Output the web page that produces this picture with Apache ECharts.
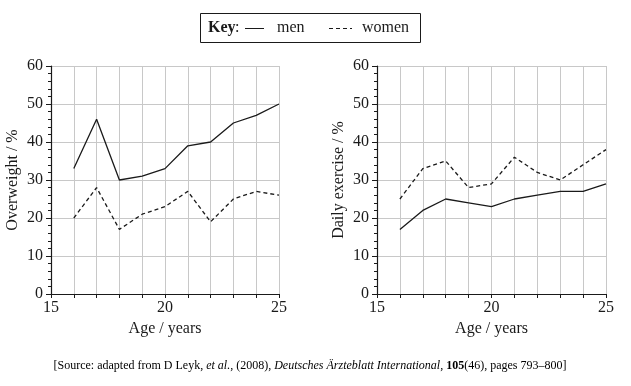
<!DOCTYPE html>
<html>
<head>
<meta charset="utf-8">
<script src="https://cdn.jsdelivr.net/npm/echarts@6/dist/echarts.min.js"></script>
<style>
html,body{margin:0;padding:0;background:#fff;}
#c{width:631px;height:386px;}
</style>
</head>
<body>
<div id="c"></div>
<script>
const ages = [16, 17, 18, 19, 20, 21, 22, 23, 24, 25];
const overweightMen   = [33, 46, 30, 31, 33, 39, 40, 45, 47, 50];
const overweightWomen = [20, 28, 17, 21, 23, 27, 19, 25, 27, 26];
const exerciseMen     = [17, 22, 25, 24, 23, 25, 26, 27, 27, 29];
const exerciseWomen   = [25, 33, 35, 28, 29, 36, 32, 30, 34, 38];
const xTickLabels = [15, 20, 25];
const yAxisNames = ['Overweight / %', 'Daily exercise / %'];
const xAxisName = 'Age / years';

const FONT = 'Liberation Serif';
const INK = '#1a1a1a';
const GRIDC = '#c8c8c8';

function pairs(vals){ return ages.map((a,i)=>[a, vals[i]]); }

function xAxis(gi){
  return {
    type:'value', gridIndex:gi, min:15, max:25, interval:1,
    name:xAxisName, nameLocation:'middle', nameGap:24,
    nameTextStyle:{fontFamily:FONT, fontSize:16, color:INK},
    axisLine:{show:true, lineStyle:{color:INK, width:1.2}},
    axisTick:{show:true, length:4, lineStyle:{color:INK}},
    axisLabel:{fontFamily:FONT, fontSize:16, color:INK, margin:6,
      formatter:v=> xTickLabels.indexOf(v)>=0 ? String(v) : ''},
    splitLine:{show:true, lineStyle:{color:GRIDC, width:1}}
  };
}
function yAxis(gi){
  return {
    type:'value', gridIndex:gi, min:0, max:60, interval:10,
    name:yAxisNames[gi], nameLocation:'middle', nameGap:30,
    nameTextStyle:{fontFamily:FONT, fontSize:16, color:INK},
    axisLine:{show:true, lineStyle:{color:INK, width:1.2}},
    axisTick:{show:true, length:5, lineStyle:{color:INK}},
    minorTick:{show:true, splitNumber:5, length:3, lineStyle:{color:INK}},
    axisLabel:{fontFamily:FONT, fontSize:16, color:INK, margin:8},
    splitLine:{show:true, lineStyle:{color:GRIDC, width:1}}
  };
}
function line(gi, vals, dashed){
  return {
    type:'line', xAxisIndex:gi, yAxisIndex:gi, data:pairs(vals),
    showSymbol:false, symbol:'none', animation:false,
    lineStyle:{color:INK, width:1.3, type: dashed ? [4,3] : 'solid'}
  };
}

const chart = echarts.init(document.getElementById('c'), null, {renderer:'canvas'});
chart.setOption({
  backgroundColor:'#fff',
  animation:false,
  grid:[
    {left:51, top:66, width:228, height:228},
    {left:377, top:66, width:229, height:228}
  ],
  xAxis:[xAxis(0), xAxis(1)],
  yAxis:[yAxis(0), yAxis(1)],
  series:[
    line(0, overweightMen, false),
    line(0, overweightWomen, true),
    line(1, exerciseMen, false),
    line(1, exerciseWomen, true)
  ],
  graphic:[
    {type:'rect', shape:{x:200.5, y:13.5, width:220, height:29},
     style:{fill:'#fff', stroke:INK, lineWidth:1}},
    {type:'text', x:208, y:28, style:{text:'Key', font:'bold 16px "Liberation Serif"', fill:INK, verticalAlign:'middle'}},
    {type:'text', x:235, y:28, style:{text:':', font:'16px "Liberation Serif"', fill:INK, verticalAlign:'middle'}},
    {type:'line', shape:{x1:245, y1:28.5, x2:264, y2:28.5}, style:{stroke:INK, lineWidth:1}},
    {type:'text', x:277, y:28, style:{text:'men', font:'16px "Liberation Serif"', fill:INK, verticalAlign:'middle'}},
    {type:'line', shape:{x1:329, y1:28.5, x2:352, y2:28.5}, style:{stroke:INK, lineWidth:1, lineDash:[4,3]}},
    {type:'text', x:362, y:28, style:{text:'women', font:'16px "Liberation Serif"', fill:INK, verticalAlign:'middle'}},
    {type:'text', x:310, y:366, style:{
      text:'{n|[Source: adapted from D Leyk, }{i|et al.}{n|, (2008), }{i|Deutsches Ärzteblatt International}{n|, }{b|105}{n|(46), pages 793–800]}',
      align:'center', verticalAlign:'middle',
      rich:{
        n:{fontFamily:FONT, fontSize:12, color:INK},
        i:{fontFamily:FONT, fontSize:12, fontStyle:'italic', color:INK},
        b:{fontFamily:FONT, fontSize:12, fontWeight:'bold', color:INK}
      }}}
  ]
});
</script>
</body>
</html>
